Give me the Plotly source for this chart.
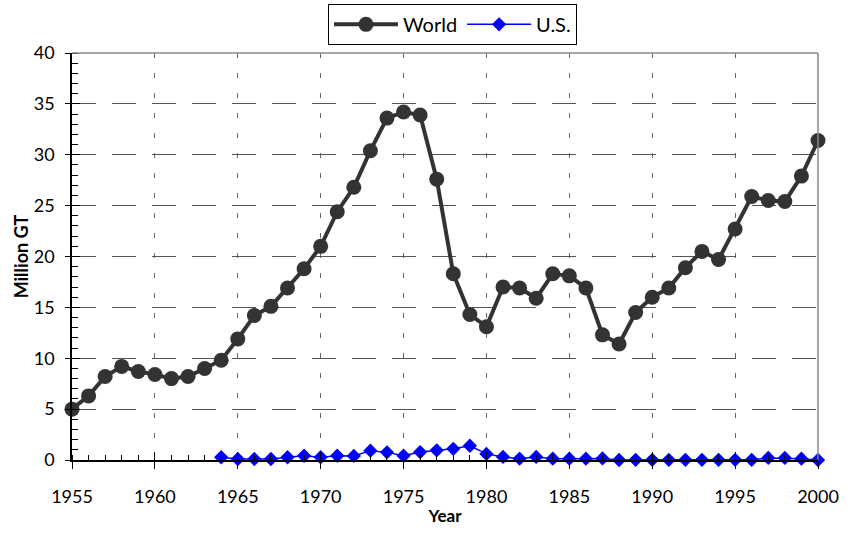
import plotly.graph_objects as go

world_years = list(range(1955, 2001))
world_values = [5.0, 6.3, 8.2, 9.2, 8.7, 8.4, 8.0, 8.2, 9.0, 9.8,
                11.9, 14.2, 15.1, 16.9, 18.8, 21.0, 24.4, 26.8, 30.4, 33.6,
                34.2, 33.9, 27.6, 18.3, 14.3, 13.1, 17.0, 16.9, 15.9, 18.3,
                18.1, 16.9, 12.3, 11.4, 14.5, 16.0, 16.9, 18.9, 20.5, 19.7,
                22.7, 25.9, 25.5, 25.4, 27.9, 31.4]

us_years = list(range(1964, 2001))
us_values = [0.27, 0.1, 0.1, 0.1, 0.27, 0.42, 0.27, 0.42, 0.4, 0.92,
             0.75, 0.42, 0.78, 0.95, 1.1, 1.4, 0.6, 0.3, 0.13, 0.3,
             0.13, 0.13, 0.13, 0.15, 0.0, 0.02, 0.02, 0.02, 0.02, 0.02,
             0.02, 0.02, 0.02, 0.2, 0.2, 0.13, 0.0]

x_range = [1955, 2000]
y_range = [0, 40]
FONT = "Lato"

fig = go.Figure()
fig.add_trace(go.Scatter(
    x=world_years, y=world_values, name="World", mode="lines+markers",
    line=dict(color="#333333", width=4),
    marker=dict(symbol="circle", size=15, color="#333333"),
    cliponaxis=False,
))
fig.add_trace(go.Scatter(
    x=us_years, y=us_values, name="U.S.", mode="lines+markers",
    line=dict(color="#0000FF", width=1.5),
    marker=dict(symbol="diamond", size=11, color="#0000FF"),
    cliponaxis=False,
))
# invisible trace to host overlay axes (inside major ticks)
fig.add_trace(go.Scatter(x=[x_range[0]], y=[y_range[0]], xaxis="x2", yaxis="y2",
                         mode="markers", marker=dict(opacity=0), showlegend=False,
                         hoverinfo="skip"))

fig.update_layout(
    width=851, height=533,
    margin=dict(l=72, r=33, t=53, b=73, autoexpand=False),
    paper_bgcolor="white", plot_bgcolor="white",
    font=dict(family=FONT, size=17, color="black"),
    showlegend=True,
    legend=dict(
        orientation="h", x=0.51, xanchor="center", y=1.02, yanchor="bottom",
        bordercolor="black", borderwidth=1, font=dict(size=20, family=FONT),
        itemwidth=64, tracegroupgap=0, bgcolor="white",
    ),
    xaxis=dict(
        range=x_range, dtick=5, tick0=1955, automargin=False,
        showline=True, linecolor="black", linewidth=1.5,
        ticks="outside", ticklen=7, tickcolor="black", tickwidth=1,
        ticklabelstandoff=13,
        showgrid=True, gridcolor="#666666", gridwidth=1, griddash="5px,15px",
        minor=dict(dtick=1, ticks="inside", ticklen=5, tickcolor="black", showgrid=False),
        zeroline=False,
        title=dict(text="<b>Year</b>", font=dict(size=17), standoff=4),
        tickfont=dict(size=18),
    ),
    yaxis=dict(
        range=y_range, dtick=5, automargin=False,
        showline=True, linecolor="black", linewidth=1.5,
        ticks="outside", ticklen=5, tickcolor="black", tickwidth=1,
        ticklabelstandoff=7,
        showgrid=True, gridcolor="#555555", gridwidth=1, griddash="24px,16px",
        minor=dict(dtick=1, ticks="inside", ticklen=6, tickcolor="black", showgrid=False),
        zeroline=False,
        title=dict(text="<b>Million GT</b>", font=dict(size=18), standoff=0),
        tickfont=dict(size=18),
    ),
    xaxis2=dict(
        overlaying="x", anchor="y2", range=x_range, dtick=5, tick0=1955,
        ticks="inside", ticklen=8, tickcolor="black", showticklabels=False,
        showgrid=False, zeroline=False, showline=False,
    ),
    yaxis2=dict(
        overlaying="y", anchor="x2", range=y_range, dtick=5,
        ticks="inside", ticklen=8, tickcolor="black", showticklabels=False,
        showgrid=False, zeroline=False, showline=False,
    ),
    shapes=[
        dict(type="line", xref="paper", yref="paper", x0=0, x1=1, y0=1, y1=1,
             line=dict(color="#888888", width=1.5)),
        dict(type="line", xref="paper", yref="paper", x0=1, x1=1, y0=0, y1=1,
             line=dict(color="#888888", width=1.5)),
    ],
)

fig.write_html("out.html", config={"displayModeBar": False},
               post_script="document.body.style.margin='0';document.body.style.overflow='hidden';")
